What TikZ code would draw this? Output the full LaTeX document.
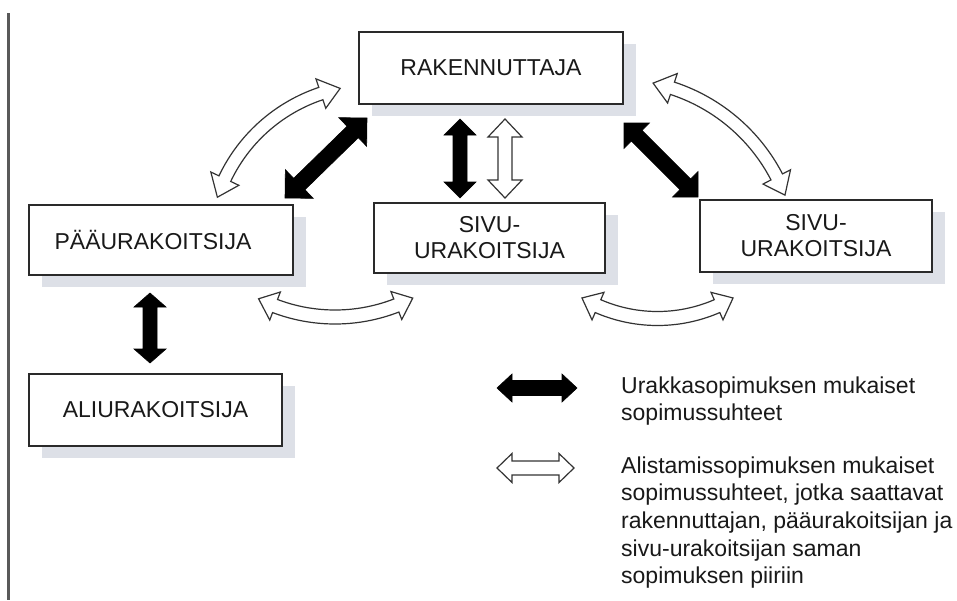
\documentclass[tikz,border=0pt]{standalone}
\usepackage{fontspec}
\setmainfont{Liberation Sans}
\usetikzlibrary{calc,shadows}
\definecolor{shadowc}{HTML}{DDE0E7}
\definecolor{boxline}{HTML}{2A2A2A}
\newcommand\blockarrow[6]{% style, from, to, half shaft, half head, head length
  \coordinate (ba) at ($(#2)!#6!(#3)$);
  \coordinate (bb) at ($(#3)!#6!(#2)$);
  \path[#1] (#2) -- ($(ba)!#5!90:(#3)$) -- ($(ba)!#4!90:(#3)$) -- ($(bb)!#4!-90:(#2)$)
    -- ($(bb)!#5!-90:(#2)$) -- (#3) -- ($(bb)!#5!90:(#2)$) -- ($(bb)!#4!90:(#2)$)
    -- ($(ba)!#4!-90:(#3)$) -- ($(ba)!#5!-90:(#3)$) -- cycle;}
\newcommand\curvedarrow[9]{% style, cx, cy, R, a1, a2, half shaft, half head, head length
  \pgfmathsetmacro\cdA{#5+#9/#4*57.29578}%
  \pgfmathsetmacro\cdB{#6-#9/#4*57.29578}%
  \path[#1] ({#2+#4*cos(#5)},{#3+#4*sin(#5)})
    -- ({#2+(#4+#8)*cos(\cdA)},{#3+(#4+#8)*sin(\cdA)})
    -- ({#2+(#4+#7)*cos(\cdA)},{#3+(#4+#7)*sin(\cdA)})
    -- plot[domain=\cdA:\cdB,samples=40] ({#2+(#4+#7)*cos(\x)},{#3+(#4+#7)*sin(\x)})
    -- ({#2+(#4+#8)*cos(\cdB)},{#3+(#4+#8)*sin(\cdB)})
    -- ({#2+#4*cos(#6)},{#3+#4*sin(#6)})
    -- ({#2+(#4-#8)*cos(\cdB)},{#3+(#4-#8)*sin(\cdB)})
    -- ({#2+(#4-#7)*cos(\cdB)},{#3+(#4-#7)*sin(\cdB)})
    -- plot[domain=\cdB:\cdA,samples=40] ({#2+(#4-#7)*cos(\x)},{#3+(#4-#7)*sin(\x)})
    -- ({#2+(#4-#8)*cos(\cdA)},{#3+(#4-#8)*sin(\cdA)}) -- cycle;}
\begin{document}
\begin{tikzpicture}[x=1pt,y=-1pt,
  box/.style={draw=boxline, line width=1.3pt, fill=white, inner sep=0pt,
    align=center, font=\fontsize{23}{26}\selectfont, text=black!90,
    drop shadow={shadow xshift=13pt, shadow yshift=-12pt, fill=shadowc, opacity=1}},
  blackarrow/.style={fill=black, draw=black, line width=0.6pt, line join=miter},
  whitearrow/.style={fill=white, draw=black!80, line width=1.2pt, line join=miter},
  legtext/.style={inner sep=0pt, align=left, anchor=north west,
    font=\fontsize{23}{27.6}\selectfont, text=black!90}]
\useasboundingbox (0,0) rectangle (957,600);
\fill[white] (0,0) rectangle (957,600);
\coordinate (rtop) at (8.5,13);
\coordinate (rbot) at (8.5,600);
\draw[line width=2.6pt, black!65] (rtop) -- (rbot);

% boxes
\node[box, minimum width=264pt, minimum height=72pt] (rak) at (491,68) {RAKENNUTTAJA};
\node[box, minimum width=264pt, minimum height=70pt] (paa) at (161,240) {PÄÄURAKOITSIJA\hspace*{16pt}};
\node[box, minimum width=231pt, minimum height=70pt] (siv1) at (489.5,238) {SIVU-\\URAKOITSIJA};
\node[box, minimum width=232pt, minimum height=72pt] (siv2) at (816,236) {SIVU-\\URAKOITSIJA};
\node[box, minimum width=253pt, minimum height=72pt] (ali) at (155.5,410) {ALIURAKOITSIJA};

% straight arrows
\coordinate (k1a) at (367,118); \coordinate (k1b) at (285,198);
\coordinate (k2a) at (460,119); \coordinate (k2b) at (460,198);
\coordinate (w1a) at (505,119); \coordinate (w1b) at (505,198);
\coordinate (k3a) at (624,123); \coordinate (k3b) at (698,197);
\coordinate (k4a) at (150,293); \coordinate (k4b) at (150,363);
\blockarrow{blackarrow}{k1a}{k1b}{8pt}{20pt}{20pt}
\blockarrow{blackarrow}{k2a}{k2b}{7pt}{16pt}{16pt}
\blockarrow{whitearrow}{w1a}{w1b}{7pt}{17pt}{18pt}
\blockarrow{blackarrow}{k3a}{k3b}{7.5pt}{18pt}{18pt}
\blockarrow{blackarrow}{k4a}{k4b}{7pt}{16pt}{14pt}

% curved arrows
\curvedarrow{whitearrow}{372.8}{248.9}{163.8}{198.4}{258.5}{6.5}{15.5}{20}
\curvedarrow{whitearrow}{616.1}{260.3}{181}{-78.2}{-21.1}{6.5}{15.5}{20}
\curvedarrow{whitearrow}{335}{147.5}{169.5}{62.7}{116.8}{7}{15}{18}
\curvedarrow{whitearrow}{657.5}{169.2}{149.3}{59.6}{120.4}{7}{15}{18}

% legend
\coordinate (lka) at (497,388); \coordinate (lkb) at (577,388);
\coordinate (lwa) at (497,468); \coordinate (lwb) at (574,468);
\blockarrow{blackarrow}{lka}{lkb}{7.5pt}{14pt}{15pt}
\blockarrow{whitearrow}{lwa}{lwb}{7pt}{14.5pt}{15pt}
\node[legtext] (leg1) at (621,376.5) {Urakkasopimuksen mukaiset\\sopimussuhteet};
\node[legtext] (leg2) at (621,456.5) {Alistamissopimuksen mukaiset\\sopimussuhteet, jotka saattavat\\rakennuttajan, pääurakoitsijan ja\\sivu-urakoitsijan saman\\sopimuksen piiriin};
\end{tikzpicture}
\end{document}
